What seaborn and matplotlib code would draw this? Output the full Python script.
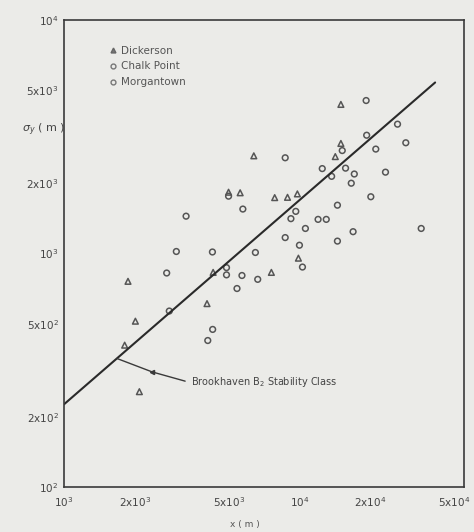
import matplotlib
matplotlib.use("Agg")
import matplotlib.pyplot as plt
import matplotlib.transforms as mtransforms
import seaborn as sns
import pandas as pd
from matplotlib.lines import Line2D

# Lateral plume spread sigma_y (m) versus downwind distance x (m)
dickerson_x = [15000, 15000, 14200, 6400, 5000, 5600, 7850, 8900, 9800, 9900,
               7600, 4300, 4050, 1870, 2010, 1810, 2090]
dickerson_y = [4350, 2960, 2600, 2620, 1830, 1820, 1735, 1740, 1800, 955,
               830, 830, 610, 760, 513, 405, 256]

chalk_point_x = [5000, 5750, 4900, 4900, 5700, 6650, 5430, 3300, 3000, 4270,
                 2730, 2800, 4280, 4080, 6500, 8700, 10000, 9200, 9650]
chalk_point_y = [1760, 1550, 870, 810, 805, 775, 708, 1445, 1020, 1015,
                 825, 567, 473, 424, 1010, 1170, 1085, 1410, 1515]

morgantown_x = [19200, 26100, 19300, 28300, 15200, 21100, 8700, 12500, 15700,
                13700, 17100, 23200, 16600, 20100, 14500, 12000, 13000, 10600,
                14500, 16900, 32900, 10300]
morgantown_y = [4520, 3580, 3210, 2980, 2760, 2800, 2570, 2310, 2320,
                2140, 2190, 2230, 2000, 1750, 1610, 1400, 1400, 1280,
                1130, 1240, 1280, 875]

# Brookhaven B2 stability class curve (end points)
curve_x = [1000, 37700]
curve_y = [226, 5400]

x_ticks = [1e3, 2e3, 5e3, 1e4, 2e4, 5e4]
x_tick_labels = ["10$^3$", "2x10$^3$", "5x10$^3$", "10$^4$", "2x10$^4$", "5x10$^4$"]
y_ticks = [1e2, 2e2, 5e2, 1e3, 2e3, 5e3, 1e4]
y_tick_labels = ["10$^2$", "2x10$^2$", "5x10$^2$", "10$^3$", "2x10$^3$", "5x10$^3$", "10$^4$"]

sites = ["Dickerson", "Chalk Point", "Morgantown"]

df = pd.concat([
    pd.DataFrame({"x": dickerson_x, "y": dickerson_y, "site": sites[0]}),
    pd.DataFrame({"x": chalk_point_x, "y": chalk_point_y, "site": sites[1]}),
    pd.DataFrame({"x": morgantown_x, "y": morgantown_y, "site": sites[2]}),
])
curve = pd.DataFrame({"x": curve_x, "y": curve_y})

sns.set_theme(style="white")
plt.rcParams["font.family"] = ["DejaVu Sans"]
paper = "#ebebe8"
ink = "#3a3a3a"

fig = plt.figure(figsize=(4.74, 5.32), dpi=100, facecolor=paper)
ax = fig.add_axes([64 / 474, 1 - 487 / 532, 400 / 474, 467 / 532])
ax.set_facecolor(paper)
ax.set_xscale("log")
ax.set_yscale("log")

sns.lineplot(data=curve, x="x", y="y", ax=ax, color="#2a2a2a", linewidth=1.5,
             legend=False)

sns.scatterplot(data=df, x="x", y="y", style="site", hue="site",
                markers={"Dickerson": "^", "Chalk Point": "o", "Morgantown": "o"},
                palette={s: "none" for s in sites},
                edgecolor="#555555", linewidth=1.1, s=17, ax=ax, legend=False)

# legend entries drawn by hand to keep the open-marker look
handles = [
    Line2D([], [], marker="^", linestyle="none", markersize=3.5,
           markerfacecolor="#777777", markeredgecolor="#666666"),
    Line2D([], [], marker="o", linestyle="none", markersize=3.5,
           markerfacecolor="none", markeredgecolor="#777777"),
    Line2D([], [], marker="o", linestyle="none", markersize=3.5,
           markerfacecolor="none", markeredgecolor="#777777"),
]
leg = ax.legend(handles, sites, loc="upper left", bbox_to_anchor=(0.085, 0.965),
                frameon=False, fontsize=7.5, handletextpad=0.3,
                labelspacing=0.55, handlelength=1.0)
for t in leg.get_texts():
    t.set_color("#555555")

ax.set_xlim(1e3, 5e4)
ax.set_ylim(1e2, 1e4)
ax.set_xticks(x_ticks)
ax.set_xticklabels(x_tick_labels)
ax.set_yticks(y_ticks)
ax.set_yticklabels(y_tick_labels)
ax.minorticks_off()
ax.tick_params(direction="in", length=9, width=1.0, color=ink,
               labelsize=7.5, labelcolor="#444444", pad=4)
ax.tick_params(axis="x", pad=6)
ax.set_xlabel("")
ax.set_ylabel("")
for sp in ax.spines.values():
    sp.set_color(ink)
    sp.set_linewidth(1.2)
    sp.set_visible(True)

# keep the last x tick label inside the figure
last = ax.get_xticklabels()[-1]
last.set_transform(last.get_transform() +
                   mtransforms.ScaledTranslation(-10 / 100, 0, fig.dpi_scale_trans))

# leader line to the curve label
ax.plot([1680, 2370, 3270], [355, 311, 284], color="#3a3a3a", linewidth=1.0)
ax.plot([2370], [311], marker="<", markersize=3, color="#3a3a3a")
ax.text(3450, 281, "Brookhaven B$_2$ Stability Class", fontsize=7,
        color="#444444", va="center", ha="left")

fig.text(22 / 474, 1 - 130 / 532, r"$\sigma_y$ ( m )", fontsize=8,
         color="#444444", ha="left", va="center")
fig.text(245 / 474, 1 - 525 / 532, "x ( m )", fontsize=6.5,
         color="#555555", ha="center", va="center")

fig.savefig("out.png", dpi=100, facecolor=paper)
